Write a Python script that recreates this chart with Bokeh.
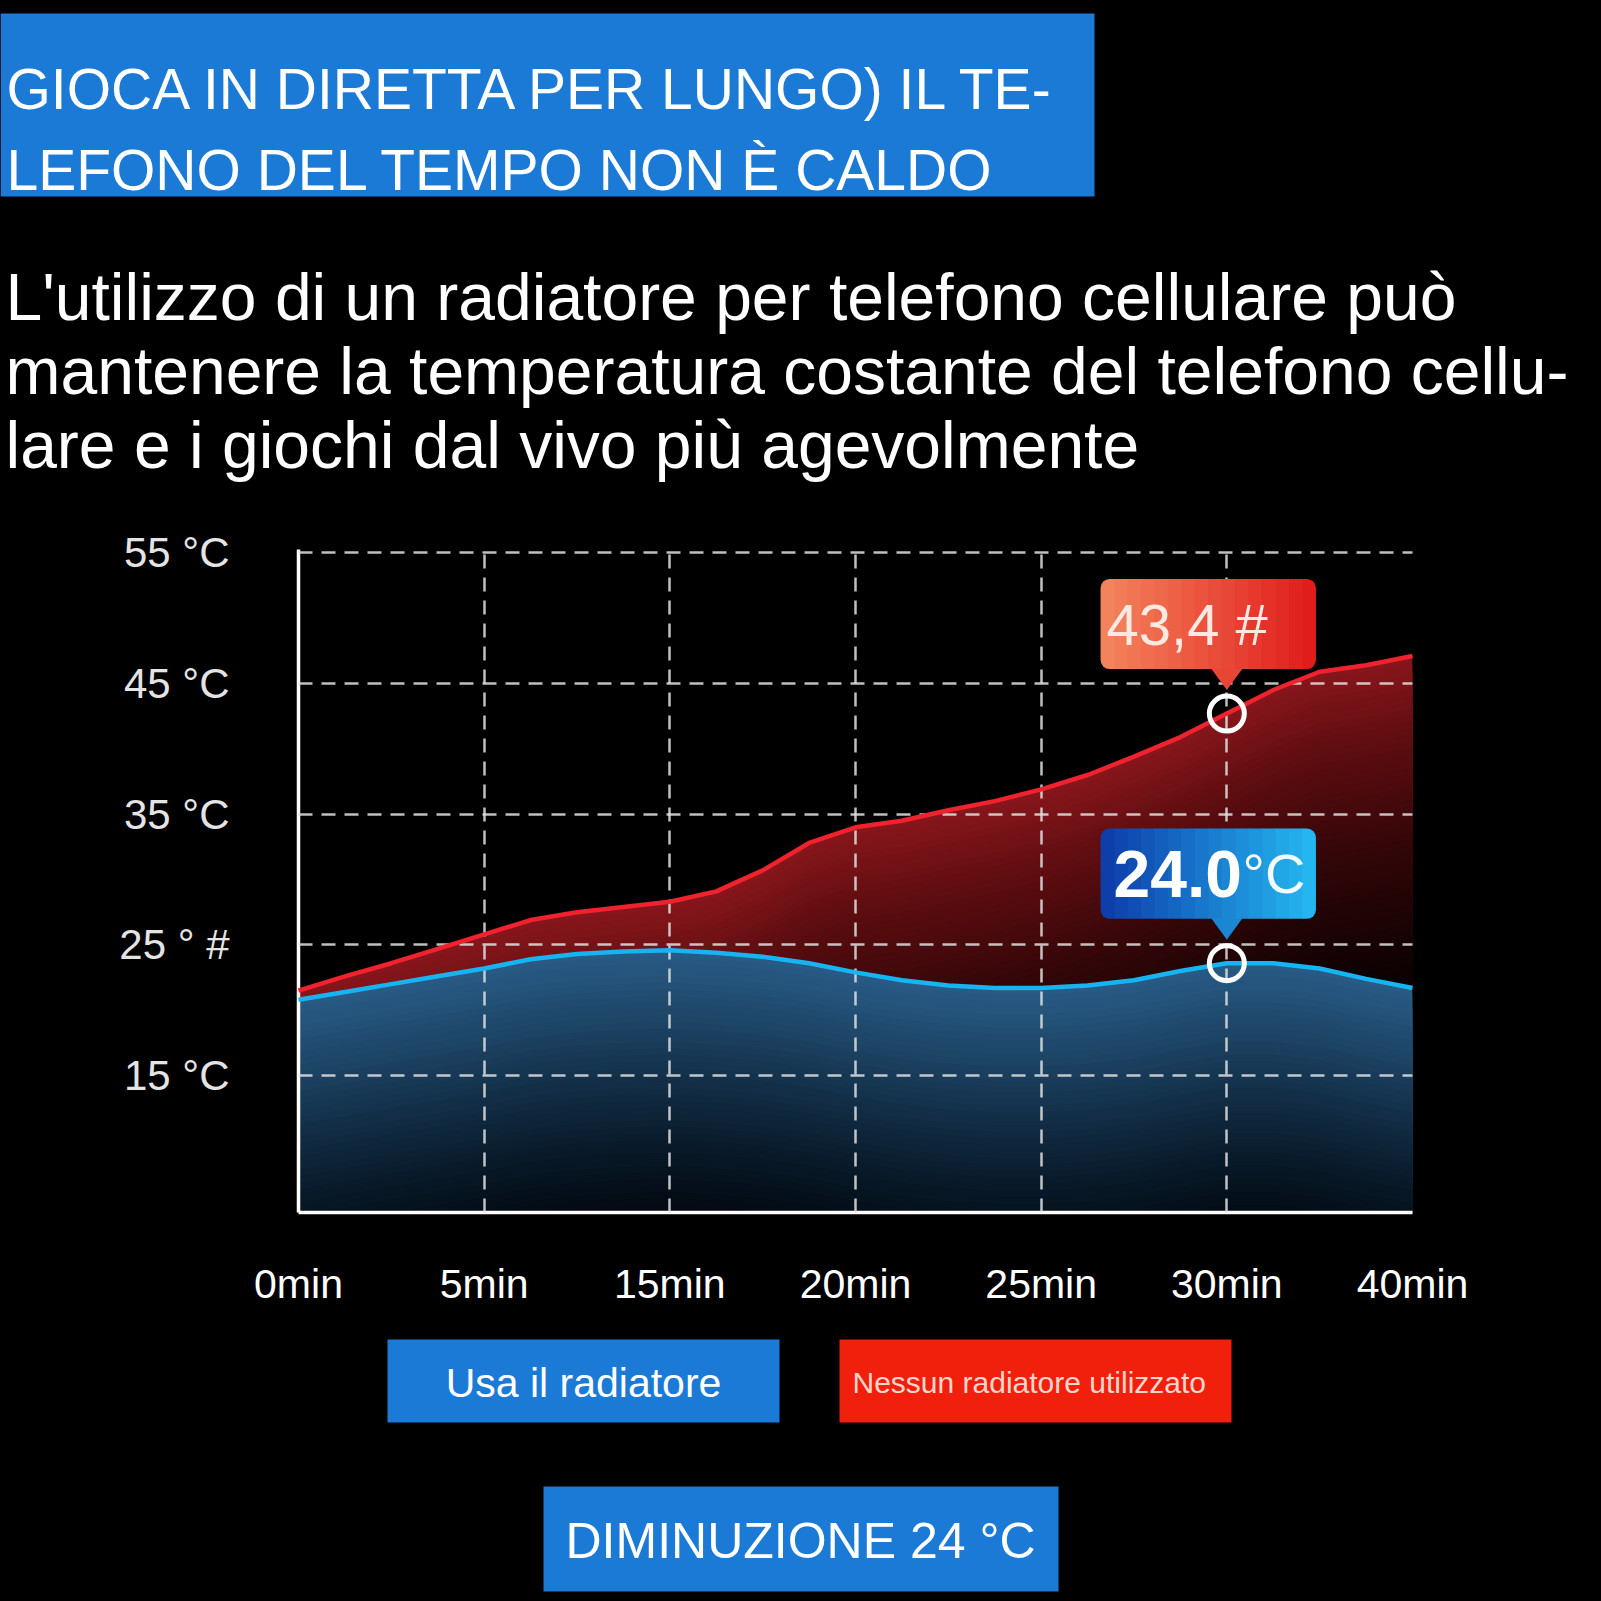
import numpy as np
from bokeh.plotting import figure
from bokeh.layouts import column
from bokeh.models import Range1d, FixedTicker
from bokeh.core.properties import value
from bokeh.embed import file_html
from bokeh.resources import INLINE

# ---------------- data ----------------
title_lines = ["GIOCA IN DIRETTA PER LUNGO) IL TE-", "LEFONO DEL TEMPO NON È CALDO"]
subtitle_lines = [
    "L'utilizzo di un radiatore per telefono cellulare può",
    "mantenere la temperatura costante del telefono cellu-",
    "lare e i giochi dal vivo più agevolmente",
]
time_labels = ["0min", "5min", "15min", "20min", "25min", "30min", "40min"]
time_slots = [0, 1, 2, 3, 4, 5, 6]
sample_slots = [0, 0.25, 0.5, 0.75, 1, 1.25, 1.5, 1.75, 2, 2.25, 2.5, 2.75, 3,
                3.25, 3.5, 3.75, 4, 4.25, 4.5, 4.75, 5, 5.25, 5.5, 5.75, 6]
temp_without = [21.5, 22.6, 23.6, 24.7, 25.8, 26.9, 27.5, 27.9, 28.3, 29.1, 30.7, 32.8, 34.0,
                34.5, 35.3, 36.0, 36.9, 38.0, 39.4, 40.9, 42.7, 44.5, 45.9, 46.4, 47.1]
temp_with = [20.8, 21.4, 22.0, 22.6, 23.2, 23.9, 24.3, 24.5, 24.6, 24.4, 24.1, 23.6, 22.9,
             22.3, 21.9, 21.7, 21.7, 21.9, 22.3, 23.0, 23.6, 23.6, 23.2, 22.4, 21.7]
y_ticks = [15, 25, 35, 45, 55]
y_tick_labels = ["15 °C", "25 ° #", "35 °C", "45 °C", "55 °C"]
y_min, y_max = 4.53, 55.25
highlight_slot = 5
highlight_without_text = "43,4 #"
highlight_with_value = "24.0"
highlight_with_unit = "°C"
legend_with = "Usa il radiatore"
legend_without = "Nessun radiatore utilizzato"
summary_text = "DIMINUZIONE 24 °C"

# ---------------- helpers ----------------
W = 1601
FONT = value("Liberation Sans")
BLUE_BOX = "#1a7ad6"
RED_BOX = "#f0200c"


def hex2rgb(h):
    return tuple(int(h[i:i + 2], 16) for i in (1, 3, 5))


def mix(c0, c1, t):
    a, b = hex2rgb(c0), hex2rgb(c1)
    return "#%02x%02x%02x" % tuple(int(round(a[i] + (b[i] - a[i]) * t)) for i in range(3))


def ramp(stops, d):
    for (d0, c0), (d1, c1) in zip(stops[:-1], stops[1:]):
        if d <= d1:
            return mix(c0, c1, (d - d0) / (d1 - d0))
    return stops[-1][1]


def blank_fig(height, y_top, y_bottom):
    f = figure(width=W, height=height, x_range=Range1d(0, W), y_range=Range1d(y_bottom, y_top),
               output_backend="svg", toolbar_location=None, min_border=0, frame_align=False,
               x_axis_location=None, y_axis_location=None,
               background_fill_color="black", border_fill_color="black", outline_line_color=None,
               styles={"background-color": "black"})
    f.grid.visible = False
    return f


# ---------------- top: title + subtitle ----------------
top = blank_fig(500, 0, 500)
top.quad(left=0, right=1094, top=13, bottom=196, fill_color=BLUE_BOX, line_color=None)
top.text(x=[6, 6], y=[88, 169], text=title_lines, text_font=FONT, text_font_size="57px",
         text_color="white", text_baseline="alphabetic", text_align="left")
top.text(x=[5, 5, 5], y=[296, 370, 444], text=subtitle_lines, text_font=FONT,
         text_font_size="66px", text_color="white", text_baseline="alphabetic", text_align="left")

# ---------------- chart ----------------
chart = figure(width=W, height=830, x_range=Range1d(0, 6), y_range=Range1d(y_min, y_max),
               output_backend="svg", toolbar_location=None, frame_align=False,
               min_border_left=298, min_border_right=189, min_border_top=49, min_border_bottom=118,
               background_fill_color="black", border_fill_color="black", outline_line_color=None,
               styles={"background-color": "black"})

xs = np.array(sample_slots, dtype=float)
red = np.array(temp_without, dtype=float)
blue = np.array(temp_with, dtype=float)

red_stops = [(0, "#86161b"), (6, "#5e0d10"), (14, "#330608"), (24, "#0c0102"), (30, "#000000")]
blue_stops = [(0, "#285a85"), (5, "#1d4566"), (10, "#122d45"), (15, "#081928"), (20, "#03080f"), (25, "#000000")]

for curve, stops, dmax in ((red, red_stops, 30), (blue, blue_stops, 25)):
    for d in np.arange(0, dmax, 0.5):
        top_edge = np.maximum(curve - d, y_min)
        if np.all(top_edge <= y_min):
            break
        chart.varea(x=xs, y1=np.full_like(xs, y_min), y2=top_edge,
                    fill_color=ramp(stops, d), fill_alpha=1.0)

chart.line(xs, red, line_color="#f0222e", line_width=4.5, level="annotation")
chart.line(xs, blue, line_color="#17b4f2", line_width=4.5, level="annotation")

# axes
for ax in (chart.xaxis[0], chart.yaxis[0]):
    ax.axis_line_color = "white"
    ax.axis_line_width = 3.5
    ax.major_tick_line_color = None
    ax.minor_tick_line_color = None
    ax.major_tick_in = 0
    ax.major_tick_out = 0
    ax.major_label_text_font = "Liberation Sans"

chart.xaxis.ticker = FixedTicker(ticks=time_slots)
chart.xaxis.major_label_overrides = {s: lab for s, lab in zip(time_slots, time_labels)}
chart.xaxis.major_label_text_font_size = "41px"
chart.xaxis.major_label_text_color = "white"
chart.xaxis.major_label_standoff = 48

chart.yaxis.ticker = FixedTicker(ticks=y_ticks)
chart.yaxis.major_label_overrides = {t: lab for t, lab in zip(y_ticks, y_tick_labels)}
chart.yaxis.major_label_text_font_size = "42px"
chart.yaxis.major_label_text_color = "#e4e4e4"
chart.yaxis.major_label_standoff = 69

chart.xgrid.ticker = FixedTicker(ticks=time_slots[1:-1])
chart.ygrid.ticker = FixedTicker(ticks=y_ticks)
for g in (chart.xgrid[0], chart.ygrid[0]):
    g.grid_line_color = "#e0e0e0"
    g.grid_line_alpha = 0.85
    g.grid_line_width = 2.5
    g.grid_line_dash = "14 9"
    g.level = "guide"

# callouts
hi = sample_slots.index(highlight_slot)
hx = sample_slots[hi]


def callout(y_point, c_left, c_right):
    tip, bottom, top_ = y_point + 1.8, y_point + 3.4, y_point + 10.3
    left, right = hx - 0.68, hx + 0.48
    n = 16
    w = (right - left) / n
    cols = [mix(c_left, c_right, (i + 0.5) / n) for i in range(n)]
    pc = mix(c_left, c_right, 0.6)
    chart.patch([hx - 0.085, hx + 0.085, hx], [bottom + 0.05, bottom + 0.05, tip],
                fill_color=pc, line_color=None, level="overlay")
    lefts = [left + i * w for i in range(n)]
    chart.quad(left=lefts[1:-1], right=[l + w * 1.05 for l in lefts[1:-1]], top=top_, bottom=bottom,
               fill_color=cols[1:-1], line_color=None, level="overlay")
    chart.quad(left=lefts[0], right=lefts[0] + w * 1.05, top=top_, bottom=bottom, fill_color=cols[0],
               line_color=None, border_radius=(9, 0, 0, 9), level="overlay")
    chart.quad(left=lefts[-1], right=right, top=top_, bottom=bottom, fill_color=cols[-1],
               line_color=None, border_radius=(0, 9, 9, 0), level="overlay")
    chart.scatter([hx], [y_point], marker="circle", size=35, fill_color=None, line_color="white",
                  line_width=5, level="overlay")
    return left, (top_ + bottom) / 2


rl, rmid = callout(red[hi], "#f4865e", "#e01a1a")
chart.text(x=[rl], y=[rmid], text=[highlight_without_text], x_offset=6, text_font=FONT,
           text_font_size="58px", text_color="#fbe9e2", text_baseline="middle", level="overlay")
bl, bmid = callout(blue[hi], "#0d3aa8", "#25baf2")
chart.text(x=[bl], y=[bmid], text=[highlight_with_value], x_offset=13, text_font=FONT,
           text_font_size="66px", text_font_style="bold", text_color="white",
           text_baseline="middle", level="overlay")
chart.text(x=[bl], y=[bmid], text=[highlight_with_unit], x_offset=142, text_font=FONT,
           text_font_size="56px", text_color="#f4fbff", text_baseline="middle", level="overlay")

# ---------------- bottom: legend boxes + summary ----------------
bottom = blank_fig(271, 1330, 1601)
bottom.quad(left=387, right=779, top=1339, bottom=1422, fill_color=BLUE_BOX, line_color=None)
bottom.text(x=[583], y=[1382], text=[legend_with], text_font=FONT, text_font_size="41px",
            text_color="white", text_baseline="middle", text_align="center")
bottom.quad(left=839, right=1231, top=1339, bottom=1422, fill_color=RED_BOX, line_color=None)
bottom.text(x=[852], y=[1382], text=[legend_without], text_font=FONT, text_font_size="30px",
            text_color="#ffd6cc", text_baseline="middle", text_align="left")
bottom.quad(left=543, right=1058, top=1486, bottom=1591, fill_color=BLUE_BOX, line_color=None)
bottom.text(x=[800], y=[1540], text=[summary_text], text_font=FONT, text_font_size="50px",
            text_color="white", text_baseline="middle", text_align="center")

layout = column(top, chart, bottom, spacing=0, styles={"background-color": "black"})
open("out.html", "w").write(file_html(layout, INLINE))
